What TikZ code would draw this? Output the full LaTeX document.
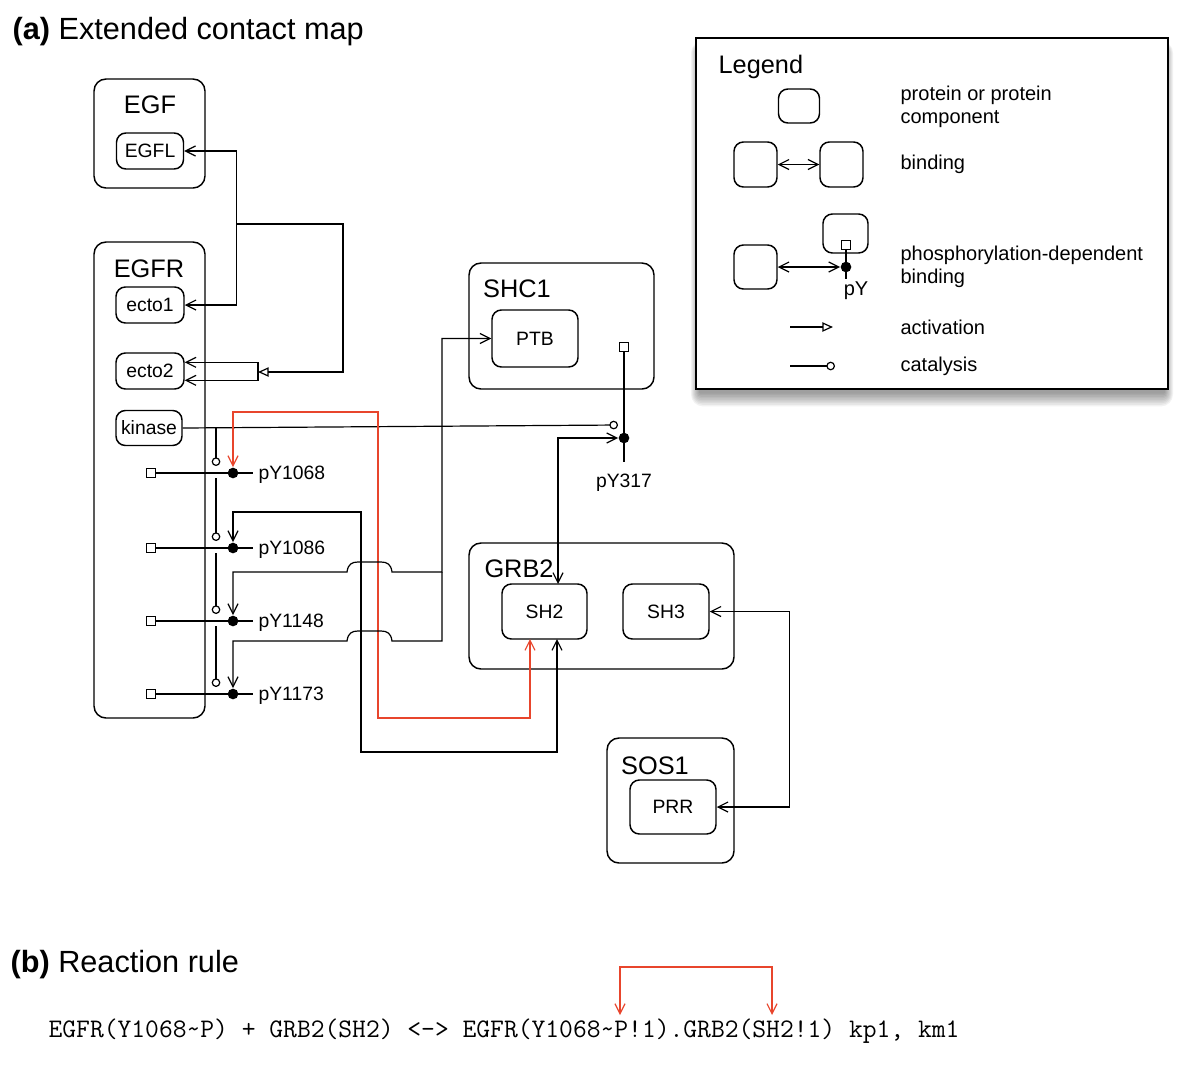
\documentclass[tikz,border=0pt]{standalone}
\usepackage{fontspec}
\setmainfont{Liberation Sans}
\usepackage{tikz}
\usetikzlibrary{arrows.meta}
\definecolor{bondred}{HTML}{E8452C}

\tikzset{
  mol/.style={draw, line width=1.1pt, rounded corners=9pt, inner sep=0pt},
  comp/.style={draw, line width=1.1pt, rounded corners=7pt, inner sep=0pt,
               font=\fontsize{14.5}{17}\selectfont},
  molname/.style={anchor=base, inner sep=0pt, font=\fontsize{19}{22}\selectfont},
  site/.style={draw, fill=white, line width=0.8pt, minimum size=6.5pt, inner sep=0pt},
  pdot/.style={circle, fill=black, minimum size=8pt, inner sep=0pt},
  lbl/.style={inner sep=0pt, font=\fontsize{14.5}{17}\selectfont},
  ltext/.style={anchor=west, align=left, inner sep=0pt, font=\fontsize{15}{17.5}\selectfont},
  act/.style={-{Triangle[open,length=8pt,width=7pt]}},
  cat/.style={-{Circle[open,length=6.5pt]}},
  jump/.style={insert path={.. controls +(1,-8) and +(-6,0) .. ++(11,-10) -- ++(23,0)
                            .. controls +(6,0) and +(-1,-8) .. ++(11,10)}}
}

\begin{document}
\begin{tikzpicture}[x=0.75pt, y=-0.75pt, line width=0.9pt,
    >={Straight Barb[length=7.5pt,width=7.5pt]}]
  \useasboundingbox (0,0) rectangle (1200,1065);

  % -- the two headings ----------------------------------------------------
  \node[anchor=base west, inner sep=0pt, font=\fontsize{23}{27}\selectfont] (capa)
    at (12,39) {\textbf{(a)} Extended contact map};
  \node[anchor=base west, inner sep=0pt, font=\fontsize{23}{27}\selectfont] (capb)
    at (10,972) {\textbf{(b)} Reaction rule};

  % -- molecules and their components ---------------------------------------
  \node[mol, minimum width=83.25pt, minimum height=81.75pt] (EGF) at (149.5,133.5) {};
  \node[molname] (EGFname) at (150,113) {EGF};
  \node[comp, minimum width=50.25pt, minimum height=27pt] (EGFL) at (150,151) {EGFL};

  \node[mol, minimum width=83.25pt, minimum height=357pt] (EGFR) at (149.5,480) {};
  \node[molname] (EGFRname) at (149,277) {EGFR};
  \node[comp, minimum width=51pt, minimum height=27pt] (ecto1) at (150,305) {ecto1};
  \node[comp, minimum width=51pt, minimum height=27pt] (ecto2) at (150,371) {ecto2};
  \node[comp, minimum width=49.5pt, minimum height=26.25pt] (kinase) at (149,428) {kinase};

  \node[mol, minimum width=138.75pt, minimum height=94.5pt] (SHC1) at (561.5,326) {};
  \node[molname] (SHC1name) at (517,297) {SHC1};
  \node[comp, minimum width=64.5pt, minimum height=42.75pt] (PTB) at (535,338.5) {PTB};

  \node[mol, minimum width=198.75pt, minimum height=94.5pt] (GRB2) at (601.5,606) {};
  \node[molname] (GRB2name) at (519,577) {GRB2};
  \node[comp, minimum width=63.75pt, minimum height=41.25pt] (SH2) at (544.5,611.5) {SH2};
  \node[comp, minimum width=64.5pt, minimum height=41.25pt] (SH3) at (666,611.5) {SH3};

  \node[mol, minimum width=95.25pt, minimum height=93.75pt] (SOS1) at (670.5,800.5) {};
  \node[molname] (SOS1name) at (655,774) {SOS1};
  \node[comp, minimum width=64.5pt, minimum height=40.5pt] (PRR) at (673,807) {PRR};

  % -- tyrosine sites of EGFR: square, phospho dot, label ------------------
  \foreach \n/\y in {1068/473, 1086/548, 1148/621, 1173/694}{
    \node[site] (sq\n) at (151,\y) {};
    \node[pdot] (p\n) at (233,\y) {};
    \node[lbl, anchor=base west] (l\n) at (258,\y+6) {pY\n};
    \draw (sq\n) -- (p\n.center) -- ++(20,0);
    \coordinate (kt\n) at (216,\y-7);
    \coordinate (kf\n) at (216,\y+5);}

  % -- site of SHC1 ---------------------------------------------------------
  \node[site] (sq317) at (624,347) {};
  \node[pdot] (p317) at (624,438) {};
  \node[lbl, anchor=base] (l317) at (624,487) {pY317};
  \draw (sq317) -- (p317.center) -- ++(0,24);

  % -- ligand binding and dimerisation --------------------------------------
  \coordinate (ej) at (236,224);
  \coordinate (e2br) at (258,372);
  \draw[<->] (EGFL.east) -- ++(52.5,0) |- (ecto1.east);
  \draw[act] (ej) -| (343,372) -- (e2br);
  \draw[->] (e2br) |- ([yshift=6.5pt]ecto2.east);
  \draw[->] (e2br) |- ([yshift=-7pt]ecto2.east);

  % -- catalysis by the kinase ----------------------------------------------
  \coordinate (kbr) at (kinase.east -| kt1068);
  \coordinate (c317) at (618,425);
  \draw[cat] (kinase.east) -- (c317);
  \draw[cat] (kbr) -- (kt1068);
  \foreach \a/\b in {1068/1086, 1086/1148, 1148/1173}{
    \draw[cat] (kf\a) -- (kt\b);}

  % -- phosphorylation-dependent binding ------------------------------------
  \coordinate (sh2r) at (530,639);
  \coordinate (sh2b) at (557,639);
  \coordinate (sh2t) at (558,584);
  \draw[<->, color=bondred] (p1068.north) |- (378,412) -- (378,718) -| (sh2r);
  \draw[<->] (p1086.north) |- (361,512) -- (361,752) -| (sh2b);
  \draw[<->] (p1148.north) |- (347,572) [jump] -- (442,572) |- (PTB.west);
  \draw[<-] (p1173.north) |- (347,641) [jump] -| (442,572);
  \draw[<->] (sh2t) |- (p317);
  \draw[<->] (SH3.east) -- ++(80,0) |- (PRR.east);

  % -- legend, with a soft shadow under it ----------------------------------
  \foreach \k in {1,...,9}{
    \fill[black, opacity=0.05, rounded corners=\k pt]
      (700-\k,50-\k) rectangle (1164+\k,392+1.6*\k);}
  \node[draw, fill=white, line width=1.1pt, minimum width=354pt, minimum height=263.25pt,
        inner sep=0pt] (legend) at (932,213.5) {};
  \node[molname, anchor=base west] (legendname) at (718,73) {Legend};

  \node[comp, minimum width=30.75pt, minimum height=25.5pt] (lprot) at (799,106) {};
  \node[comp, minimum width=32.25pt, minimum height=33.75pt] (lbnda) at (755.5,164.5) {};
  \node[comp, minimum width=32.25pt, minimum height=33.75pt] (lbndb) at (841.5,164.5) {};
  \draw[<->] (lbnda) -- (lbndb);

  \node[comp, minimum width=32.25pt, minimum height=33pt] (lpha) at (755.5,267) {};
  \node[comp, minimum width=33.75pt, minimum height=29.25pt] (lphb) at (845.5,233.5) {};
  \node[site] (lsq) at (846,245) {};
  \node[pdot] (ldot) at (846,267) {};
  \draw (lsq) -- (ldot.center) -- ++(0,12);
  \draw[<->] (lpha) -- (ldot);
  \node[lbl, anchor=base, font=\fontsize{15}{17}\selectfont] (lpy) at (856,295) {pY};

  \coordinate (lacta) at (790,327);
  \coordinate (lactb) at (833,327);
  \draw[act] (lacta) -- (lactb);
  \coordinate (lcata) at (790,366);
  \coordinate (lcatb) at (835,366);
  \draw[cat] (lcata) -- (lcatb);

  \node[ltext] (tprot) at (900,107) {protein or protein\\component};
  \node[ltext] (tbnd) at (900,164) {binding};
  \node[ltext] (tpho) at (900,267) {phosphorylation-dependent\\binding};
  \node[ltext] (tact) at (900,327) {activation};
  \node[ltext] (tcat) at (900,366) {catalysis};

  % -- reaction rule, with the bond it creates ------------------------------
  \node[anchor=base west, inner sep=0pt, font=\ttfamily\fontsize{20.1}{22}\selectfont] (rule)
    at (48,1037) {EGFR(Y1068\textasciitilde P) + GRB2(SH2) <-> EGFR(Y1068\textasciitilde P!1).GRB2(SH2!1) kp1, km1};
  \coordinate (rpa) at (620,1015);
  \coordinate (rpb) at (772,1015);
  \draw[<->, color=bondred] (rpa) -- (620,967) -| (rpb);

\end{tikzpicture}
\end{document}
